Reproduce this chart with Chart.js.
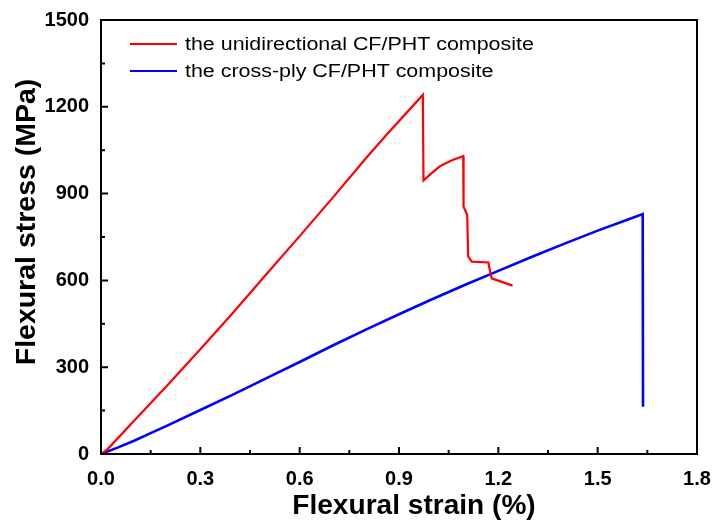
<!DOCTYPE html>
<html>
<head>
<meta charset="utf-8">
<script src="https://cdn.jsdelivr.net/npm/chart.js@4/dist/chart.umd.min.js"></script>
<style>
html,body{margin:0;padding:0;background:#fff;}
#wrap{width:716px;height:530px;}
</style>
</head>
<body>
<div id="wrap"><canvas id="c" width="716" height="530"></canvas></div>
<script>
// Series data
const seriesNames = ["the unidirectional CF/PHT composite", "the cross-ply CF/PHT composite"];
const uniStrain = [0, 0.02, 0.1, 0.2, 0.3, 0.4, 0.5, 0.6, 0.7, 0.8, 0.863, 0.972, 0.974, 0.99, 1.024, 1.06, 1.094, 1.094, 1.096, 1.106, 1.109, 1.120, 1.170, 1.172, 1.180, 1.243];
const uniStress = [0, 17, 115, 237, 362, 490, 622, 753, 886, 1022, 1104, 1241, 945, 962, 995, 1015, 1030, 902, 855, 826, 682, 665, 662, 648, 607, 582];
const crossStrain = [0, 0.05, 0.1, 0.15, 0.2, 0.3, 0.4, 0.5, 0.6, 0.7, 0.8, 0.9, 1.0, 1.1, 1.2, 1.3, 1.4, 1.5, 1.6, 1.636, 1.637];
const crossStress = [0, 22, 46, 72, 98, 152, 206, 262, 318, 375, 430, 483, 535, 585, 633, 681, 727, 772, 814, 829, 163];
const xTicks = [0, 0.3, 0.6, 0.9, 1.2, 1.5, 1.8];
const yTicks = [0, 300, 600, 900, 1200, 1500];
const xTitle = 'Flexural strain (%)';
const yTitle = 'Flexural stress (MPa)';
const seriesColors = ["#ff0000", "#0000ff"];

const FONT = '"Liberation Sans", Arial, sans-serif';
const AREA = {left: 101, top: 20, right: 697, bottom: 454};
const toPts = (xs, ys) => xs.map((x, i) => ({x: x, y: ys[i]}));

const areaPlugin = {
  id: 'fixArea',
  afterLayout(chart) {
    const a = chart.chartArea;
    a.left = AREA.left; a.top = AREA.top; a.right = AREA.right; a.bottom = AREA.bottom;
    a.width = AREA.right - AREA.left; a.height = AREA.bottom - AREA.top;
    const xs = chart.scales.x, ys = chart.scales.y;
    xs.left = AREA.left; xs.right = AREA.right; xs.width = a.width;
    xs.top = AREA.bottom; xs.bottom = chart.height; xs.height = chart.height - AREA.bottom;
    ys.left = 0; ys.right = AREA.left; ys.width = AREA.left;
    ys.top = AREA.top; ys.bottom = AREA.bottom; ys.height = a.height;
    xs.configure(); ys.configure();
  }
};

const framePlugin = {
  id: 'frame',
  afterDatasetsDraw(chart) {
    const ctx = chart.ctx, a = chart.chartArea;
    const xs = chart.scales.x, ys = chart.scales.y;
    ctx.save();
    ctx.strokeStyle = '#000';
    ctx.lineWidth = 2;
    ctx.strokeRect(a.left, a.top, a.right - a.left, a.bottom - a.top);
    ctx.beginPath();
    for (let i = 0; i < xTicks.length; i++) {
      const px = xs.getPixelForValue(xTicks[i]);
      ctx.moveTo(px, a.bottom); ctx.lineTo(px, a.bottom - 7);
      if (i < xTicks.length - 1) {
        const pm = xs.getPixelForValue((xTicks[i] + xTicks[i + 1]) / 2);
        ctx.moveTo(pm, a.bottom); ctx.lineTo(pm, a.bottom - 4);
      }
    }
    for (let i = 0; i < yTicks.length; i++) {
      const py = ys.getPixelForValue(yTicks[i]);
      ctx.moveTo(a.left, py); ctx.lineTo(a.left + 7, py);
      if (i < yTicks.length - 1) {
        const pm = ys.getPixelForValue((yTicks[i] + yTicks[i + 1]) / 2);
        ctx.moveTo(a.left, pm); ctx.lineTo(a.left + 4, pm);
      }
    }
    ctx.stroke();
    ctx.restore();
  }
};

const textPlugin = {
  id: 'texts',
  afterDraw(chart) {
    const ctx = chart.ctx;
    ctx.save();
    // legend
    chart.data.datasets.forEach((ds, i) => {
      const y = 44 + i * 27;
      ctx.strokeStyle = ds.borderColor;
      ctx.lineWidth = 2;
      ctx.beginPath();
      ctx.moveTo(130, y); ctx.lineTo(177, y);
      ctx.stroke();
      ctx.save();
      ctx.translate(185, y);
      ctx.scale(1.19, 1);
      ctx.fillStyle = '#000';
      ctx.font = '18px ' + FONT;
      ctx.textBaseline = 'middle';
      ctx.textAlign = 'left';
      ctx.fillText(ds.label, 0, 1);
      ctx.restore();
    });
    // axis titles
    ctx.fillStyle = '#000';
    ctx.font = 'bold 27px ' + FONT;
    ctx.textAlign = 'center';
    ctx.textBaseline = 'middle';
    ctx.save();
    ctx.translate(414, 507);
    ctx.scale(1.04, 1);
    ctx.fillText(xTitle, 0, 0);
    ctx.restore();
    ctx.save();
    ctx.translate(28, 222);
    ctx.rotate(-Math.PI / 2);
    ctx.scale(1.055, 1);
    ctx.fillText(yTitle, 0, 0);
    ctx.restore();
    ctx.restore();
  }
};

new Chart(document.getElementById('c'), {
  type: 'scatter',
  data: {
    datasets: [
      {label: seriesNames[0], data: toPts(uniStrain, uniStress), showLine: true, borderColor: seriesColors[0], backgroundColor: seriesColors[0], borderWidth: 2.2, pointRadius: 0, tension: 0},
      {label: seriesNames[1], data: toPts(crossStrain, crossStress), showLine: true, borderColor: seriesColors[1], backgroundColor: seriesColors[1], borderWidth: 2.6, pointRadius: 0, tension: 0}
    ]
  },
  options: {
    responsive: false,
    animation: false,
    devicePixelRatio: 1,
    layout: {padding: {left: 0, right: 19, top: 20, bottom: 0}},
    plugins: {legend: {display: false}, tooltip: {enabled: false}},
    scales: {
      x: {
        type: 'linear', min: 0, max: 1.8,
        afterFit(s) { s.height = 76; },
        afterBuildTicks(s) { s.ticks = xTicks.map(v => ({value: v})); },
        grid: {display: false, drawTicks: false},
        border: {display: false},
        ticks: {
          padding: 13, color: '#000',
          font: {family: FONT, size: 20, weight: 'bold'},
          callback: v => Number(v).toFixed(1)
        },
        title: {display: false}
      },
      y: {
        type: 'linear', min: 0, max: 1500,
        afterFit(s) { s.width = 101; },
        afterBuildTicks(s) { s.ticks = yTicks.map(v => ({value: v})); },
        grid: {display: false, drawTicks: false},
        border: {display: false},
        ticks: {
          padding: 12, color: '#000',
          font: {family: FONT, size: 20, weight: 'bold'},
          callback: v => String(v)
        },
        title: {display: false}
      }
    }
  },
  plugins: [areaPlugin, framePlugin, textPlugin]
});
</script>
</body>
</html>
